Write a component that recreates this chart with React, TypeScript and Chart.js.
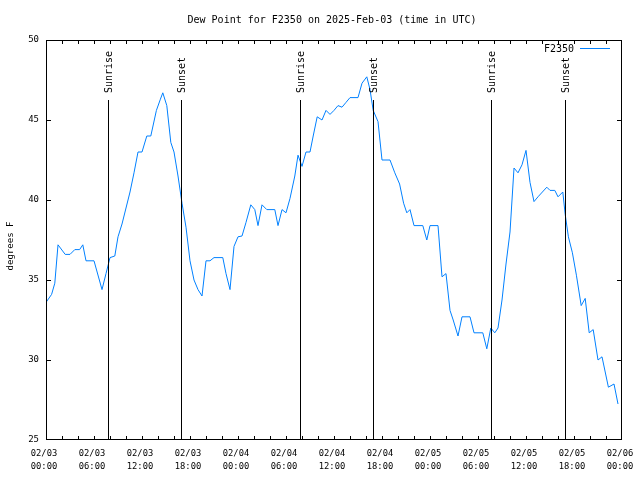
import React, { useEffect, useRef } from "react";
import { Chart, registerables } from "chart.js";

Chart.register(...registerables);

// hours since 2025-02-03 00:00 UTC
const times = [
  0, 0.7, 1.1, 1.5, 2.4, 3.0, 3.6, 4.2, 4.6, 5.0, 6.0, 7.0, 7.5, 8.0, 8.6, 9.0,
  9.5, 10.0, 10.5, 11.0, 11.5, 12.0, 12.6, 13.1, 13.8, 14.3, 14.6, 15.1, 15.6,
  16.0, 16.5, 17.0, 17.5, 18.0, 18.5, 19.0, 19.5, 20.0, 20.5, 21.0, 22.1, 22.5,
  23.0, 23.5, 24.0, 24.5, 25.0, 25.6, 26.1, 26.5, 27.0, 27.6, 28.6, 29.0, 29.5,
  30.0, 30.5, 31.1, 31.5, 32.0, 32.5, 33.0, 33.4, 33.9, 34.5, 35.0, 35.5, 36.0,
  36.5, 37.0, 37.5, 38.0, 39.0, 39.5, 40.1, 40.5, 40.9, 41.5, 42.0, 43.0, 43.6,
  44.2, 44.7, 45.1, 45.5, 46.0, 47.1, 47.6, 48.0, 49.0, 49.5, 50.0, 50.5, 50.9,
  51.5, 52.0, 53.0, 53.5, 54.6, 55.1, 55.6, 56.1, 56.5, 57.0, 57.5, 58.0, 58.5,
  59.0, 59.5, 60.0, 60.5, 61.0, 61.5, 62.6, 63.0, 63.6, 64.0, 64.6, 64.9, 65.3,
  65.8, 66.3, 66.9, 67.4, 67.9, 68.4, 69.0, 69.5, 70.3, 71.0, 71.5,
];

const dewPoint = [
  33.6, 34.1, 34.8, 37.2, 36.6, 36.6, 36.9, 36.9, 37.2, 36.2, 36.2, 34.4, 35.4,
  36.4, 36.5, 37.7, 38.5, 39.5, 40.5, 41.7, 43.0, 43.0, 44.0, 44.0, 45.6, 46.3,
  46.7, 45.9, 43.6, 43.0, 41.5, 39.8, 38.3, 36.2, 35.0, 34.4, 34.0, 36.2, 36.2,
  36.4, 36.4, 35.4, 34.4, 37.1, 37.7, 37.75, 38.6, 39.7, 39.4, 38.4, 39.7, 39.4,
  39.4, 38.4, 39.4, 39.2, 40.1, 41.5, 42.8, 42.1, 43.0, 43.0, 44.0, 45.2, 45.0,
  45.6, 45.35, 45.6, 45.9, 45.8, 46.1, 46.4, 46.4, 47.3, 47.7, 46.9, 45.6, 44.9,
  42.5, 42.5, 41.7, 41.0, 39.8, 39.2, 39.4, 38.4, 38.4, 37.5, 38.4, 38.4, 35.2,
  35.4, 33.1, 32.5, 31.5, 32.7, 32.7, 31.7, 31.7, 30.7, 32.0, 31.7, 32.0, 33.75,
  36.0, 38.0, 42.0, 41.7, 42.2, 43.1, 41.1, 39.9, 40.2, 40.8, 40.6, 40.6, 40.2,
  40.5, 39.1, 37.7, 36.7, 35.3, 33.4, 33.85, 31.7, 31.9, 30.0, 30.2, 28.3, 28.5,
  27.25,
];

const sunrises = [7.75, 31.75, 55.625];
const sunsets = [16.875, 40.875, 64.875];

const dayLabels = ["02/03", "02/04", "02/05", "02/06"];
const titleText = "Dew Point for F2350 on 2025-Feb-03 (time in UTC)";
const yTitle = "degrees F";
const seriesName = "F2350";

const MONO = "'DejaVu Sans Mono', 'Liberation Mono', monospace";
const LINE_COLOR = "rgb(0,128,255)";

const decorPlugin = {
  id: "decor",
  afterDatasetsDraw(chart: any) {
    const { ctx, chartArea: a, scales } = chart;
    const xs = scales.x;
    const ys = scales.y;
    ctx.save();
    // frame
    ctx.strokeStyle = "#000";
    ctx.lineWidth = 1;
    ctx.strokeRect(a.left + 0.5, a.top + 0.5, a.right - a.left - 1, a.bottom - a.top - 1);
    // ticks (inward, mirrored)
    ctx.beginPath();
    for (let h = 2; h < 72; h += 2) {
      const px = Math.round(xs.getPixelForValue(h)) + 0.5;
      ctx.moveTo(px, a.bottom);
      ctx.lineTo(px, a.bottom - 4);
      ctx.moveTo(px, a.top);
      ctx.lineTo(px, a.top + 4);
    }
    for (let v = 30; v < 50; v += 5) {
      const py = Math.round(ys.getPixelForValue(v)) + 0.5;
      ctx.moveTo(a.left, py);
      ctx.lineTo(a.left + 5, py);
      ctx.moveTo(a.right, py);
      ctx.lineTo(a.right - 5, py);
    }
    ctx.stroke();
    // sun lines
    const drawSun = (h: number, label: string) => {
      const px = Math.round(xs.getPixelForValue(h)) + 0.5;
      ctx.beginPath();
      ctx.moveTo(px, a.top + 60);
      ctx.lineTo(px, a.bottom);
      ctx.stroke();
      ctx.save();
      ctx.translate(px + 1, a.top + 53);
      ctx.rotate(-Math.PI / 2);
      ctx.fillStyle = "#000";
      ctx.font = `10px ${MONO}`;
      ctx.textAlign = "left";
      ctx.textBaseline = "middle";
      ctx.fillText(label, 0, 0);
      ctx.restore();
    };
    sunrises.forEach((h) => drawSun(h, "Sunrise"));
    sunsets.forEach((h) => drawSun(h, "Sunset"));
    // title
    ctx.fillStyle = "#000";
    ctx.font = `10px ${MONO}`;
    ctx.textAlign = "center";
    ctx.textBaseline = "middle";
    ctx.fillText(titleText, 332, 20);
    // y title
    ctx.save();
    ctx.translate(11, 246);
    ctx.rotate(-Math.PI / 2);
    ctx.font = `9px ${MONO}`;
    ctx.textAlign = "center";
    ctx.textBaseline = "middle";
    ctx.fillText(yTitle, 0, 0);
    ctx.restore();
    // legend
    ctx.font = `10px ${MONO}`;
    ctx.textAlign = "right";
    ctx.textBaseline = "middle";
    ctx.fillText(seriesName, 574, 49);
    ctx.strokeStyle = LINE_COLOR;
    ctx.beginPath();
    ctx.moveTo(580, 48.5);
    ctx.lineTo(610, 48.5);
    ctx.stroke();
    ctx.restore();
  },
};

export default function App() {
  const ref = useRef<HTMLCanvasElement | null>(null);
  useEffect(() => {
    if (!ref.current) return;
    const chart = new Chart(ref.current, {
      type: "line",
      data: {
        datasets: [
          {
            label: seriesName,
            data: times.map((t, i) => ({ x: t, y: dewPoint[i] })),
            borderColor: LINE_COLOR,
            borderWidth: 1,
            pointRadius: 0,
            tension: 0,
            fill: false,
          },
        ],
      },
      options: {
        responsive: false,
        animation: false,
        devicePixelRatio: 1,
        layout: { padding: { top: 40, right: 18, left: 0, bottom: 0 } },
        plugins: {
          legend: { display: false },
          title: { display: false },
          tooltip: { enabled: false },
        },
        scales: {
          x: {
            type: "linear",
            min: 0,
            max: 72,
            afterFit: (s: any) => {
              s.height = 40;
              s.paddingLeft = 0;
              s.paddingRight = 0;
            },
            grid: { display: false, drawTicks: false },
            border: { display: false },
            ticks: {
              stepSize: 6,
              autoSkip: false,
              maxRotation: 0,
              minRotation: 0,
              padding: 7.5,
              labelOffset: -2,
              color: "#000",
              font: { family: MONO, size: 8.8, lineHeight: "13px" },
              callback: (v: any) => {
                const h = Number(v);
                const d = Math.floor(h / 24);
                const hh = h - d * 24;
                return [dayLabels[d], `${String(hh).padStart(2, "0")}:00`];
              },
            },
          },
          y: {
            min: 25,
            max: 50,
            afterFit: (s: any) => {
              s.width = 46;
              s.paddingTop = 0;
              s.paddingBottom = 0;
            },
            grid: { display: false, drawTicks: false },
            border: { display: false },
            ticks: {
              stepSize: 5,
              padding: 7,
              color: "#000",
              font: { family: MONO, size: 9 },
            },
          },
        },
      },
      plugins: [decorPlugin],
    });
    return () => chart.destroy();
  }, []);
  return (
    <div style={{ position: "absolute", left: 0, top: 0, width: 640, height: 480, background: "#fff" }}>
      <canvas ref={ref} width={640} height={480} />
    </div>
  );
}
